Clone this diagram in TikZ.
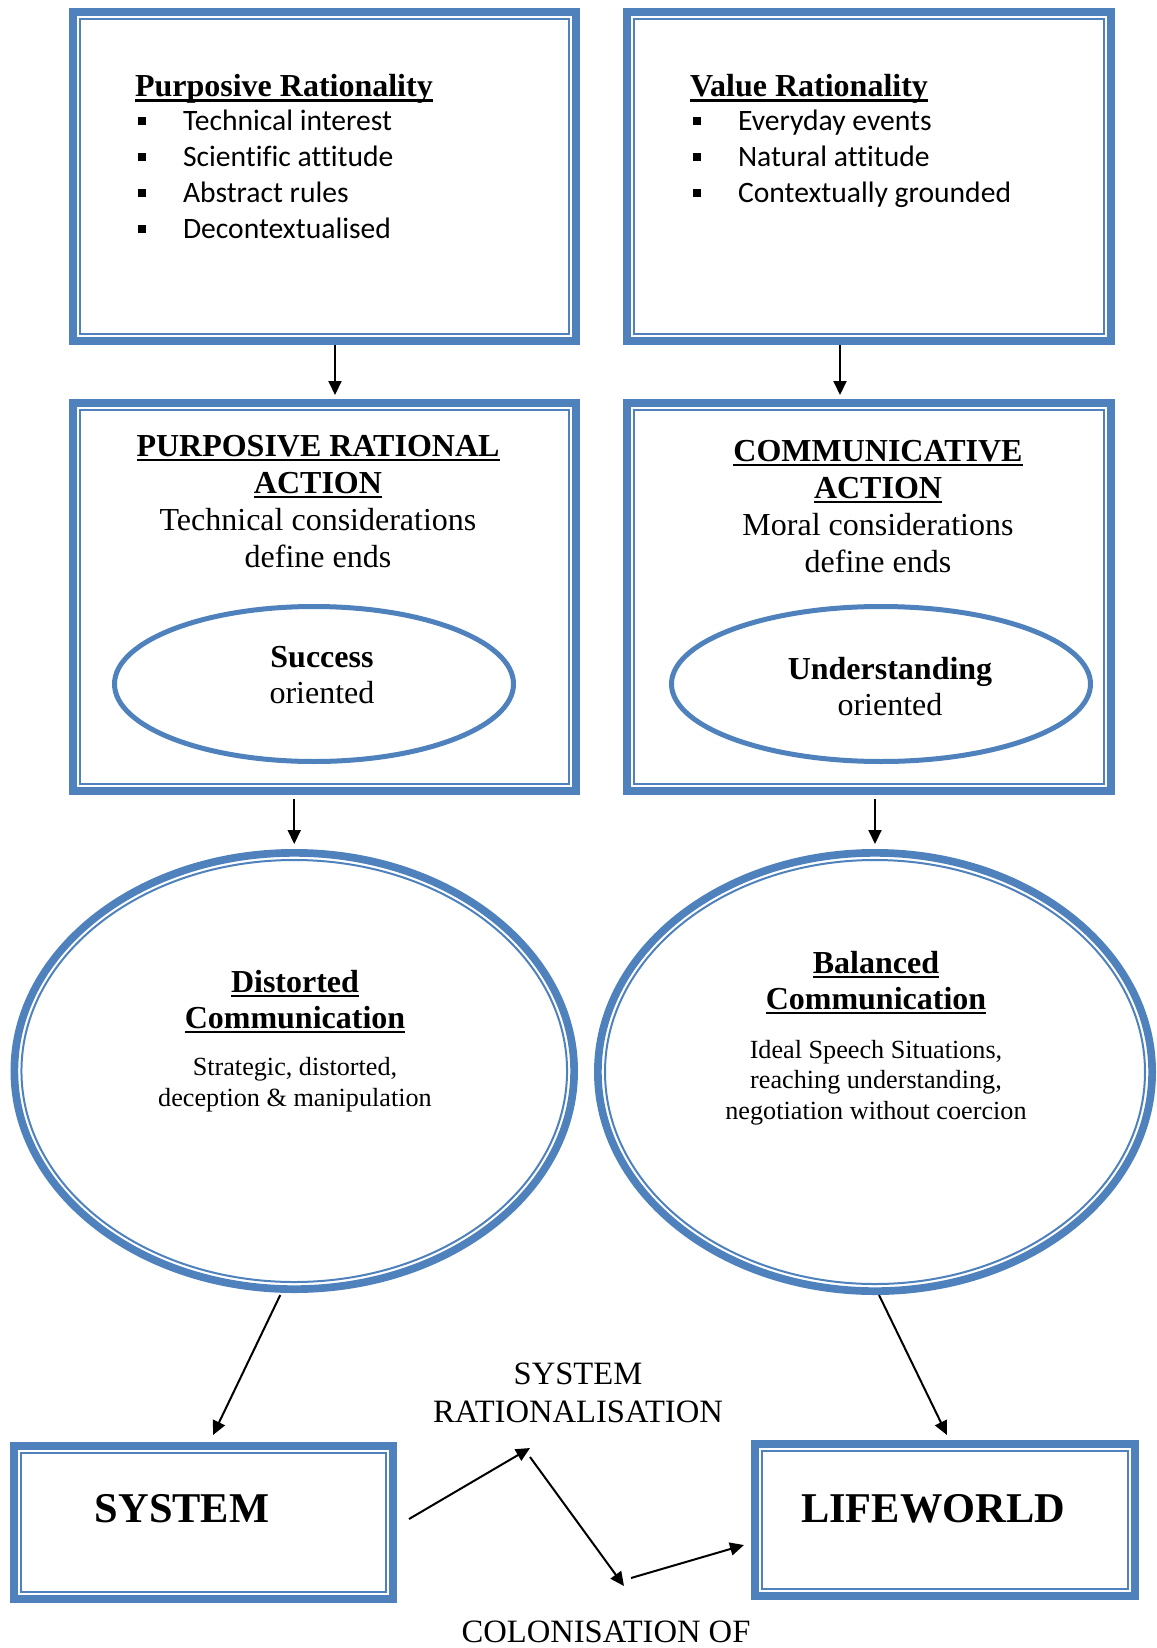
\documentclass[tikz,border=0pt]{standalone}
\usepackage{fontspec}
\setmainfont{Liberation Serif}
\newfontfamily\calibrifont[Ligatures={NoCommon}]{Carlito}
\usetikzlibrary{shapes.geometric,arrows.meta}
\definecolor{frameblue}{RGB}{79,129,189}

% underline placed just below the baseline
\newcommand\ulword[1]{\setbox0\hbox{#1}\rlap{\rule[-2.6pt]{\wd0}{1.35pt}}\box0}
% square list bullet followed by the item indent
\newcommand\sqbullet{\hspace*{1.5pt}\makebox[22.5pt][l]{\rule[3.2pt]{4pt}{4pt}}}
% one list item in the sans face
\newcommand\listitem[1]{\hbox{\calibrifont\fontsize{14.8}{18}\selectfont\sqbullet #1}}

\begin{document}
\begin{tikzpicture}[x=0.5pt,y=-0.5pt,
  framebox/.style={draw=frameblue, line width=3.85pt, outer sep=1.925pt, inner sep=0pt},
  frameoval/.style={ellipse, draw=frameblue, line width=3.85pt, outer sep=1.925pt, inner sep=0pt},
  thinframe/.style={draw=frameblue, line width=1pt},
  oval/.style={ellipse, draw=frameblue, line width=2.5pt, outer sep=1.25pt, inner sep=0pt},
  txt/.style={inner sep=0pt, outer sep=0pt},
  arr/.style={draw=black, line width=1pt, -{Triangle[length=7pt,width=6.5pt]}},
  listtext/.style={txt, anchor=base west},
  blocktext/.style={txt, anchor=base},
]
\useasboundingbox (0,0) rectangle (1156,1648);

% ---- rectangular frames (thick outer band) ----
\node[framebox, minimum width=251.65pt, minimum height=164.65pt] (tl) at (324.5,176.5) {};
\node[framebox, minimum width=242.15pt, minimum height=164.65pt] (tr) at (869,176.5) {};
\node[framebox, minimum width=251.65pt, minimum height=194.15pt] (ml) at (324.5,597) {};
\node[framebox, minimum width=242.15pt, minimum height=194.15pt] (mr) at (869,597) {};
\node[framebox, minimum width=189.65pt, minimum height=76.65pt] (sys) at (203.5,1522.5) {};
\node[framebox, minimum width=190.15pt, minimum height=76.15pt] (life) at (945,1520) {};

% thin inner line of each frame
\foreach \b in {tl,tr,ml,mr,sys,life}
  \draw[thinframe] ([shift={(11,11)}]\b.north west) rectangle ([shift={(-11,-11)}]\b.south east);

% ---- ovals inside the action boxes ----
\node[oval, minimum width=199.5pt, minimum height=77.5pt] (succ) at (314,684) {};
\node[oval, minimum width=209.5pt, minimum height=77.5pt] (under) at (881,684) {};

% ---- large communication ovals ----
\node[frameoval, minimum width=279.9pt, minimum height=218.15pt] (bl) at (294.25,1071) {};
\node[frameoval, minimum width=277.15pt, minimum height=219.15pt] (br) at (875,1072) {};
\draw[thinframe] (bl.center) ellipse [x radius=136.4pt, y radius=105.5pt];
\draw[thinframe] (br.center) ellipse [x radius=135pt, y radius=106pt];

% ---- rationality lists ----
\node[listtext] (tlText) at (135,97) {\vtop{\baselineskip=18pt
  \hbox{\fontsize{16}{18}\selectfont\bfseries\ulword{Purposive Rationality}}\vskip-1pt
  \listitem{Technical interest}
  \listitem{Scientific attitude}
  \listitem{Abstract rules}
  \listitem{Decontextualised}}};
\node[listtext] (trText) at (690,97) {\vtop{\baselineskip=18pt
  \hbox{\fontsize{16}{18}\selectfont\bfseries\ulword{Value Rationality}}\vskip-1pt
  \listitem{Everyday events}
  \listitem{Natural attitude}
  \listitem{Contextually grounded}}};

% ---- action box texts ----
\node[blocktext] (mlText) at (318,456) {\fontsize{16}{18.5}\selectfont
  \begin{tabular}[t]{@{}c@{}}\bfseries\ulword{PURPOSIVE RATIONAL}\\ \bfseries\ulword{ACTION}\\
  Technical considerations\\ define ends\end{tabular}};
\node[blocktext] (mrText) at (878,461) {\fontsize{16}{18.5}\selectfont
  \begin{tabular}[t]{@{}c@{}}\bfseries\ulword{COMMUNICATIVE}\\ \bfseries\ulword{ACTION}\\
  Moral considerations\\ define ends\end{tabular}};
\node[blocktext] (succText) at (322,667) {\fontsize{16}{18}\selectfont
  \begin{tabular}[t]{@{}c@{}}\bfseries Success\\ oriented\end{tabular}};
\node[blocktext] (underText) at (890,679) {\fontsize{16}{18}\selectfont
  \begin{tabular}[t]{@{}c@{}}\bfseries Understanding\\ oriented\end{tabular}};

% ---- communication oval texts ----
\node[blocktext] (blHead) at (295,992) {\fontsize{16}{18}\selectfont\bfseries
  \begin{tabular}[t]{@{}c@{}}\ulword{Distorted}\\ \ulword{Communication}\end{tabular}};
\node[blocktext] (blBody) at (295,1075) {\fontsize{13.1}{15.5}\selectfont
  \begin{tabular}[t]{@{}c@{}}Strategic, distorted,\\ deception \& manipulation\end{tabular}};
\node[blocktext] (brHead) at (876,973) {\fontsize{16}{18}\selectfont\bfseries
  \begin{tabular}[t]{@{}c@{}}\ulword{Balanced}\\ \ulword{Communication}\end{tabular}};
\node[blocktext] (brBody) at (876,1058) {\fontsize{13.1}{15.4}\selectfont
  \begin{tabular}[t]{@{}c@{}}Ideal Speech Situations,\\ reaching understanding,\\ negotiation without coercion\end{tabular}};

% ---- bottom labels ----
\node[blocktext] (sysText) at (182,1522) {\fontsize{21.2}{24}\selectfont\bfseries SYSTEM};
\node[blocktext] (lifeText) at (933,1522) {\fontsize{21.2}{24}\selectfont\bfseries LIFEWORLD};
\node[blocktext] (ratText) at (578,1384) {\fontsize{16.3}{19}\selectfont
  \begin{tabular}[t]{@{}c@{}}SYSTEM\\ RATIONALISATION\end{tabular}};
\node[blocktext] (colText) at (606,1642) {\fontsize{16.3}{19}\selectfont COLONISATION OF};

% ---- connectors ----
\draw[arr, shorten >=2pt] ([xshift=5.25pt]tl.south) -- ([xshift=5.25pt]ml.north);
\draw[arr, shorten >=2pt] ([xshift=-14.5pt]tr.south) -- ([xshift=-14.5pt]mr.north);
\draw[arr, shorten <=2pt, shorten >=2.5pt] (ml.south -| bl.north) -- (bl.north);
\draw[arr, shorten <=2pt, shorten >=2.5pt] (mr.south -| br.north) -- (br.north);
\draw[arr] ([shift={(-14,2)}]bl.south) -- ([shift={(9.5,-7)}]sys.north);
\draw[arr] ([shift={(4,0)}]br.south) -- ([shift={(2,-5)}]life.north);

% zigzag between system and lifeworld
\coordinate (z0) at (409,1519);
\coordinate (z1) at (530,1448);
\coordinate (z2) at (530,1457);
\coordinate (z3) at (624,1586);
\coordinate (z4) at (631,1578);
\coordinate (z5) at (744,1545);
\draw[arr] (z0) -- (z1);
\draw[arr] (z2) -- (z3);
\draw[arr] (z4) -- (z5);
\end{tikzpicture}
\end{document}
